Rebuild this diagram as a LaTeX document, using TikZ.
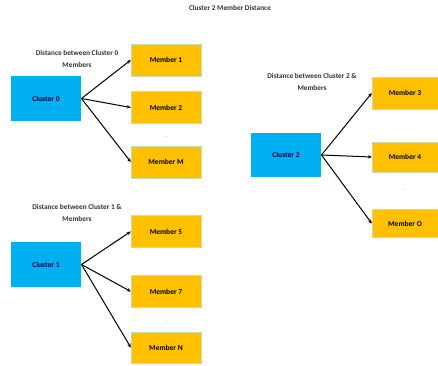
\documentclass[tikz,border=0pt]{standalone}
\usepackage{fontspec}
\setmainfont{Carlito}
\usepackage{xcolor}
\usetikzlibrary{arrows.meta}
\definecolor{clusblue}{HTML}{00B0F0}
\definecolor{membgold}{HTML}{FFC000}
\definecolor{membedge}{HTML}{C9D9B0}

\begin{document}
\begin{tikzpicture}[x=1pt,y=-1pt,->,>={Stealth[length=4pt,width=3.5pt]},line width=1pt,
  clus/.style={rectangle,fill=clusblue,minimum width=70pt,minimum height=45pt,inner sep=0pt,font=\bfseries\fontsize{7.5}{9}\selectfont,text=black!75!blue},
  memb/.style={rectangle,fill=membgold,draw=membedge,line width=0.4pt,minimum width=70pt,minimum height=32pt,inner sep=0pt,font=\bfseries\fontsize{7.5}{9}\selectfont},
  lbl/.style={align=center,font=\bfseries\fontsize{7.3}{12}\selectfont,text=black!80},
  gap/.style={font=\fontsize{5}{5}\selectfont,text=gray!70}]
\path[use as bounding box,fill=white] (0,0) rectangle (438,365);
\node[lbl] (title) at (230,8) {Cluster 2 Member Distance};
% cluster 0
\node[lbl] (lab0) at (77,59) {Distance between Cluster 0\\Members};
\node[clus] (c0) at (46,98.5) {Cluster 0};
\node[memb] (m1) at (166,60) {Member 1};
\node[memb] (m2) at (166,107.5) {Member 2};
\node[gap] (d0) at (166,137) {...};
\node[memb] (mM) at (166,162) {Member M};
% cluster 1
\node[lbl] (lab1) at (77,213) {Distance between Cluster 1 \&\\Members};
\node[clus] (c1) at (46,264.5) {Cluster 1};
\node[memb] (m5) at (166,231.5) {Member 5};
\node[memb] (m7) at (166,291.5) {Member 7};
\node[gap] (d1) at (166,322) {...};
\node[memb,minimum height=31pt] (mN) at (166,347.5) {Member N};
% cluster 2
\node[lbl] (lab2) at (312,81.5) {Distance between Cluster 2 \&\\Members};
\node[clus,minimum height=44pt] (c2) at (286,155) {Cluster 2};
\node[memb,minimum width=66pt] (m3) at (405,93) {Member 3};
\node[memb,minimum width=66pt,minimum height=30pt] (m4) at (405,157) {Member 4};
\node[gap] (d2) at (405,190) {...};
\node[memb,minimum width=66pt,minimum height=28pt] (mO) at (405,223.5) {Member O};
\draw (c0.east)--(m1.west);\draw (c0.east)--(m2.west);\draw (c0.east)--(mM.west);
\draw (c1.east)--(m5.west);\draw (c1.east)--(m7.west);\draw (c1.east)--(mN.west);
\draw (c2.east)--(m3.west);\draw (c2.east)--(m4.west);\draw (c2.east)--(mO.west);
\end{tikzpicture}
\end{document}
